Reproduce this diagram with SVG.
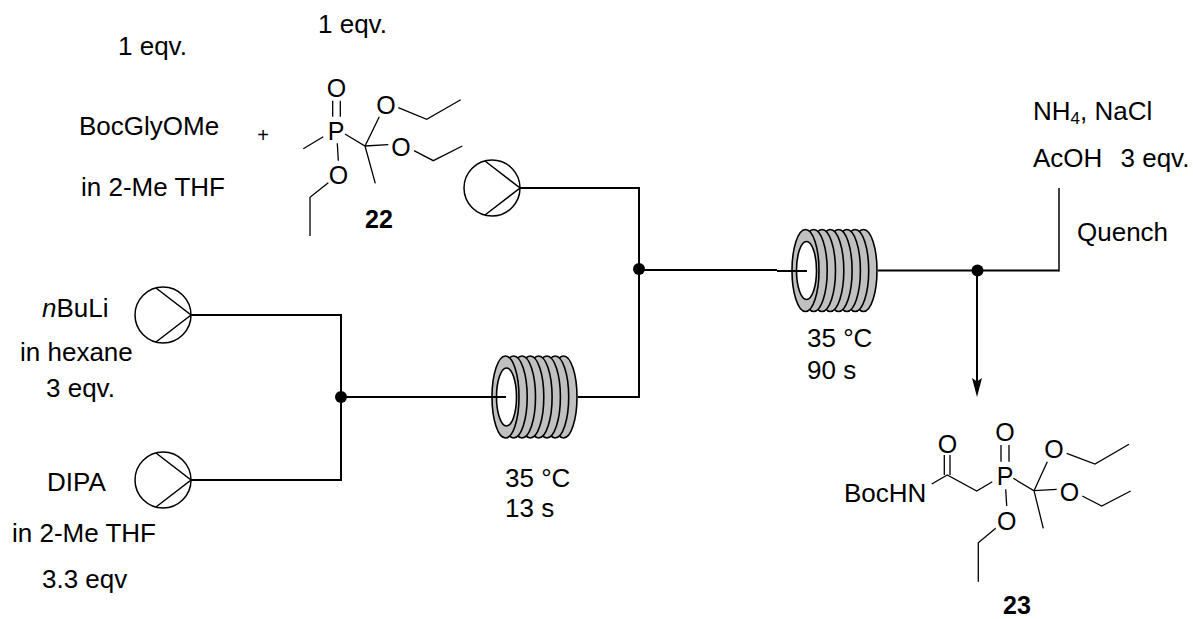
<svg xmlns="http://www.w3.org/2000/svg" width="1193" height="619" viewBox="0 0 1193 619">
<style>
text{font-family:"Liberation Sans",Arial,sans-serif;font-size:26px;fill:#000}
.b{font-weight:bold;font-size:25px}
.a{font-size:25px;text-anchor:middle}
.bond{fill:none;stroke:#000;stroke-width:1.3}
.pump{fill:#fff;stroke:#000;stroke-width:1.5}
.pl{fill:none;stroke:#000;stroke-width:1.5}
.line{fill:none;stroke:#000;stroke-width:2}
.ring{fill:#c0c0c0;stroke:#000;stroke-width:1.6}
</style>
<defs>
<g id="coil">
<ellipse class="ring" cx="58" cy="0" rx="13.5" ry="41"/>
<ellipse class="ring" cx="49.7" cy="0" rx="13.5" ry="41"/>
<ellipse class="ring" cx="41.4" cy="0" rx="13.5" ry="41"/>
<ellipse class="ring" cx="33.1" cy="0" rx="13.5" ry="41"/>
<ellipse class="ring" cx="24.8" cy="0" rx="13.5" ry="41"/>
<ellipse class="ring" cx="16.5" cy="0" rx="13.5" ry="41"/>
<ellipse class="ring" cx="8.2" cy="0" rx="13.5" ry="41"/>
<ellipse class="ring" cx="0" cy="0" rx="13.5" ry="41"/>
<ellipse cx="1" cy="0" rx="10" ry="29" fill="#fff" stroke="#000" stroke-width="1.6"/>
</g>
<g id="pumpg">
<circle class="pump" cx="0" cy="0" r="28"/>
<path class="pl" d="M-7,-27 L28,0 L-7,27"/>
</g>
</defs>

<g id="coil1"><use href="#coil" x="505.5" y="397"/></g>
<g id="coil2"><use href="#coil" x="805.5" y="270.5"/></g>
<g id="pump1"><use href="#pumpg" x="492" y="188"/></g>
<g id="pump2"><use href="#pumpg" x="163" y="315"/></g>
<g id="pump3"><use href="#pumpg" x="163" y="480"/></g>

<g id="connectors">
<path class="line" d="M191,315 H341 V480 H191"/>
<path class="line" d="M341,397 H506"/>
<path class="line" d="M578,397 H639 V188 H520"/>
<path class="line" d="M639,270 H777"/>
<path class="line" d="M777,271 H807"/>
<path class="line" d="M878,270.5 H1059"/>
<path d="M1059,271.5 V188" fill="none" stroke="#000" stroke-width="1.5"/>
<path class="line" d="M977,270.5 V385"/>
<path d="M972,378 L977,381.5 L982,378 L977,397 Z" fill="#000"/>
<circle cx="341" cy="397" r="6"/>
<circle cx="639" cy="269" r="6"/>
<circle cx="977.5" cy="270.5" r="6"/>
</g>

<g id="labels">
<text x="118" y="55">1 eqv.</text>
<text x="318" y="33">1 eqv.</text>
<text x="79" y="134.5">BocGlyOMe</text>
<text x="263" y="141.5" style="font-size:20px;text-anchor:middle">+</text>
<text x="81" y="195.5">in 2-Me THF</text>
<text x="42" y="316.5"><tspan font-style="italic">n</tspan>BuLi</text>
<text x="20" y="360.5">in hexane</text>
<text x="46" y="397">3 eqv.</text>
<text x="47" y="490.5">DIPA</text>
<text x="12" y="541.5">in 2-Me THF</text>
<text x="42" y="587.5">3.3 eqv</text>
<text x="1033" y="119.5">NH<tspan dy="4" style="font-size:17px">4</tspan><tspan dy="-4">, NaCl</tspan></text>
<text x="1033" y="166.5">AcOH<tspan x="1120.5">3 eqv.</tspan></text>
<text x="1077" y="240.5">Quench</text>
<text x="505" y="486.5">35 °C</text>
<text x="505" y="516.5">13 s</text>
<text x="807" y="347">35 °C</text>
<text x="807" y="379">90 s</text>
</g>

<g id="compound22">
<path class="bond" d="M332.7,100.7V116.7M340.3,100.7V116.7M323.3,136.7L303.3,148.7M345,134L365,146L379.3,116.7M398.3,107.7L426.7,119.3L460.7,99.7M365,146L388.3,144.7M414,150.7L433.3,160.7L462.3,146M365,146L375.3,183.3M337.3,143.3L338.3,160.7M328.3,182.7L310,197.3V236"/>
<text class="a" x="336.5" y="96.5">O</text>
<text class="a" x="336" y="140">P</text>
<text class="a" x="386" y="114">O</text>
<text class="a" x="401" y="155.5">O</text>
<text class="a" x="338.5" y="184">O</text>
<text class="b" x="365" y="228">22</text>
</g>

<g id="compound23">
<path class="bond" d="M944.3,455V475M950,455V475M931.7,484L947.3,475L976.7,491L992.3,481.7M1001,445V461.7M1009,445V461.7M1013.3,478.3L1034,490.7L1047.3,461.7M1066.7,453.3L1095,464L1129,444.3M1034,490.7L1056.7,489.3M1082.3,496L1101.7,506L1130.7,491M1034,490.7L1043.3,528.3M1005.7,489.3L1006.7,506M995.7,528.3L978.3,542.7V581.7"/>
<text x="844" y="501.7">BocHN</text>
<text class="a" x="947.5" y="452.5">O</text>
<text class="a" x="1005" y="485">P</text>
<text class="a" x="1005" y="440.5">O</text>
<text class="a" x="1054" y="458">O</text>
<text class="a" x="1069.5" y="500.5">O</text>
<text class="a" x="1006.7" y="529.5">O</text>
<text class="b" x="1003" y="613.5">23</text>
</g>
</svg>
